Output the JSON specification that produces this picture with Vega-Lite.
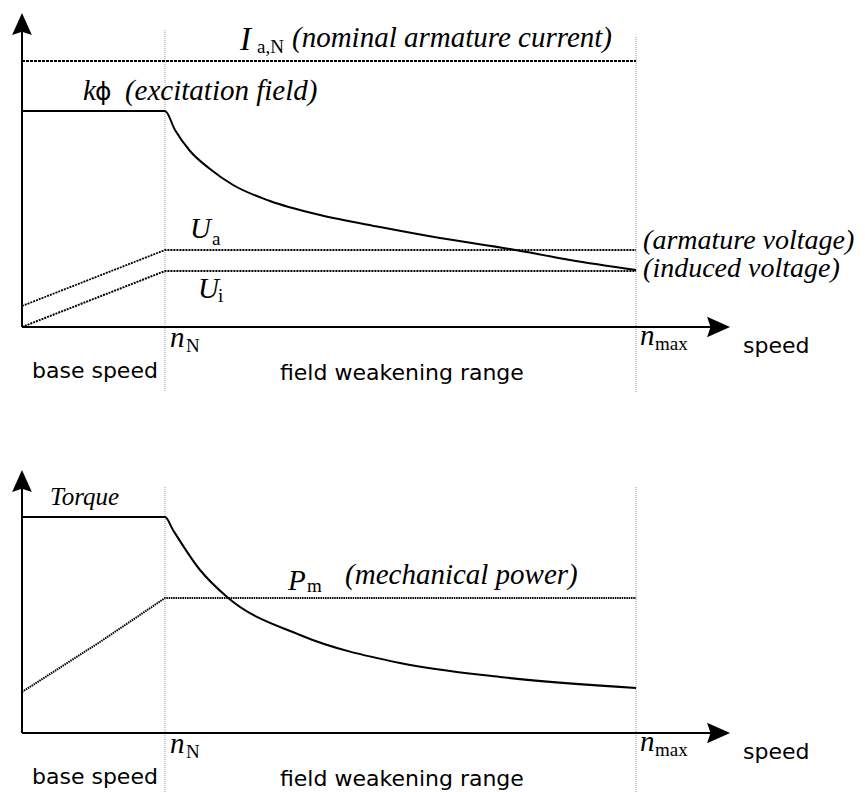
{
  "$schema": "https://vega.github.io/schema/vega-lite/v6.json",
  "background": "white",
  "padding": 0,
  "spacing": 40,
  "config": {"view": {"stroke": null}},
  "resolve": {"scale": {"x": "independent", "y": "independent"}},
  "vconcat": [
    {
      "width": 865,
      "height": 400,
      "encoding": {
        "x": {"field": "n", "type": "quantitative", "scale": {"domain": [-0.1538, 5.895], "nice": false, "zero": false}, "axis": null},
        "y": {"field": "v", "type": "quantitative", "scale": {"domain": [-73, 327], "nice": false, "zero": false}, "axis": null}
      },
      "layer": [
        {
          "data": {"values": [{"n": 1, "v": 297, "v2": -65}, {"n": 4.294, "v": 290, "v2": -65}]},
          "mark": {"type": "rule", "color": "#999999", "strokeWidth": 1, "strokeDash": [1, 1]},
          "encoding": {"y2": {"field": "v2"}}
        },
        {
          "data": {"values": [{"n": 0, "v": 0, "n2": 0, "v2": 300}, {"n": 0, "v": 0, "n2": 4.87, "v2": 0}]},
          "mark": {"type": "rule", "color": "black", "strokeWidth": 2},
          "encoding": {"x2": {"field": "n2"}, "y2": {"field": "v2"}}
        },
        {
          "data": {"values": [{"n": 0, "v": 303}]},
          "mark": {"type": "point", "shape": "M0,-1L0.9,1L0,0.7L-0.9,1Z", "filled": true, "color": "black", "opacity": 1, "size": 484}
        },
        {
          "data": {"values": [{"n": 4.871, "v": 0}]},
          "mark": {"type": "point", "shape": "M1,0L-1,0.9L-0.7,0L-1,-0.9Z", "filled": true, "color": "black", "opacity": 1, "size": 529}
        },
        {
          "data": {"values": [{"n": 0, "v": 266}, {"n": 4.294, "v": 266}]},
          "mark": {"type": "line", "color": "black", "strokeWidth": 2, "strokeDash": [3, 1]}
        },
        {
          "data": {"values": [
            {"n": 0, "v": 216}, {"n": 1, "v": 216}, {"n": 1.07, "v": 197}, {"n": 1.175, "v": 176},
            {"n": 1.315, "v": 158}, {"n": 1.476, "v": 142}, {"n": 1.734, "v": 126}, {"n": 2.084, "v": 112},
            {"n": 2.503, "v": 100}, {"n": 2.923, "v": 89}, {"n": 3.413, "v": 78}, {"n": 3.832, "v": 67}, {"n": 4.294, "v": 57}
          ]},
          "mark": {"type": "line", "color": "black", "strokeWidth": 2, "interpolate": "monotone"}
        },
        {
          "data": {"values": [{"n": 0, "v": 21}, {"n": 1, "v": 77}, {"n": 4.294, "v": 77}]},
          "mark": {"type": "line", "color": "black", "strokeWidth": 1.8, "strokeDash": [2, 1]}
        },
        {
          "data": {"values": [{"n": 0, "v": 0}, {"n": 1, "v": 56}, {"n": 4.294, "v": 56}]},
          "mark": {"type": "line", "color": "black", "strokeWidth": 2, "strokeDash": [2, 1]}
        },
        {
          "data": {"values": [{"n": 1.524, "v": 277, "t": "I"}]},
          "mark": {"type": "text", "font": "Liberation Serif", "fontStyle": "italic", "fontSize": 33, "align": "left", "baseline": "alphabetic", "color": "black"},
          "encoding": {"text": {"field": "t"}}
        },
        {
          "data": {"values": [
            {"n": 1.888, "v": 280, "t": "(nominal armature current)"},
            {"n": 0.427, "v": 227, "t": "k"},
            {"n": 0.72, "v": 227, "t": "(excitation field)"},
            {"n": 1.175, "v": 89, "t": "U"},
            {"n": 1.231, "v": 29, "t": "U"},
            {"n": 1.035, "v": -20, "t": "n"},
            {"n": 4.322, "v": -18, "t": "n"}
          ]},
          "mark": {"type": "text", "font": "Liberation Serif", "fontStyle": "italic", "fontSize": 29, "align": "left", "baseline": "alphabetic", "color": "black"},
          "encoding": {"text": {"field": "t"}}
        },
        {
          "data": {"values": [
            {"n": 4.343, "v": 78, "t": "(armature voltage)"},
            {"n": 4.343, "v": 50, "t": "(induced voltage)"}
          ]},
          "mark": {"type": "text", "font": "Liberation Serif", "fontStyle": "italic", "fontSize": 28, "align": "left", "baseline": "alphabetic", "color": "black"},
          "encoding": {"text": {"field": "t"}}
        },
        {
          "data": {"values": [
            {"n": 1.643, "v": 274, "t": "a,N"},
            {"n": 1.329, "v": 82, "t": "a"},
            {"n": 1.371, "v": 25, "t": "i"},
            {"n": 1.147, "v": -25, "t": "N"},
            {"n": 4.427, "v": -23, "t": "max"}
          ]},
          "mark": {"type": "text", "font": "Liberation Serif", "fontSize": 19, "align": "left", "baseline": "alphabetic", "color": "black"},
          "encoding": {"text": {"field": "t"}}
        },
        {
          "data": {"values": [{"n": 0.51, "v": 227, "t": "ϕ"}]},
          "mark": {"type": "text", "font": "DejaVu Sans", "fontSize": 25, "align": "left", "baseline": "alphabetic", "color": "black"},
          "encoding": {"text": {"field": "t"}}
        },
        {
          "data": {"values": [
            {"n": 5.042, "v": -26, "t": "speed"},
            {"n": 0.07, "v": -51, "t": "base speed"},
            {"n": 1.804, "v": -53, "t": "field weakening range"}
          ]},
          "mark": {"type": "text", "font": "DejaVu Sans", "fontSize": 22, "align": "left", "baseline": "alphabetic", "color": "black"},
          "encoding": {"text": {"field": "t"}}
        }
      ]
    },
    {
      "width": 865,
      "height": 352,
      "encoding": {
        "x": {"field": "n", "type": "quantitative", "scale": {"domain": [-0.1538, 5.895], "nice": false, "zero": false}, "axis": null},
        "y": {"field": "v", "type": "quantitative", "scale": {"domain": [-59, 293], "nice": false, "zero": false}, "axis": null}
      },
      "layer": [
        {
          "data": {"values": [{"n": 1, "v": 246, "v2": -59}, {"n": 4.294, "v": 246, "v2": -59}]},
          "mark": {"type": "rule", "color": "#999999", "strokeWidth": 1, "strokeDash": [1, 1]},
          "encoding": {"y2": {"field": "v2"}}
        },
        {
          "data": {"values": [{"n": 0, "v": 0, "n2": 0, "v2": 248}, {"n": 0, "v": 0, "n2": 4.87, "v2": 0}]},
          "mark": {"type": "rule", "color": "black", "strokeWidth": 2},
          "encoding": {"x2": {"field": "n2"}, "y2": {"field": "v2"}}
        },
        {
          "data": {"values": [{"n": 0, "v": 252}]},
          "mark": {"type": "point", "shape": "M0,-1L0.9,1L0,0.7L-0.9,1Z", "filled": true, "color": "black", "opacity": 1, "size": 484}
        },
        {
          "data": {"values": [{"n": 4.871, "v": 0}]},
          "mark": {"type": "point", "shape": "M1,0L-1,0.9L-0.7,0L-1,-0.9Z", "filled": true, "color": "black", "opacity": 1, "size": 529}
        },
        {
          "data": {"values": [
            {"n": 0, "v": 216}, {"n": 1, "v": 216}, {"n": 1.056, "v": 203}, {"n": 1.245, "v": 163},
            {"n": 1.434, "v": 136}, {"n": 1.944, "v": 98}, {"n": 2.643, "v": 70}, {"n": 3.343, "v": 56}, {"n": 4.294, "v": 45}
          ]},
          "mark": {"type": "line", "color": "black", "strokeWidth": 2, "interpolate": "monotone"}
        },
        {
          "data": {"values": [{"n": 0, "v": 41}, {"n": 0.545, "v": 91}, {"n": 1, "v": 135}, {"n": 4.294, "v": 135}]},
          "mark": {"type": "line", "color": "black", "strokeWidth": 2, "strokeDash": [1.5, 0.8]}
        },
        {
          "data": {"values": [
            {"n": 1.86, "v": 143, "t": "P"},
            {"n": 2.259, "v": 149, "t": "(mechanical power)"},
            {"n": 1.035, "v": -20, "t": "n"},
            {"n": 4.322, "v": -18, "t": "n"}
          ]},
          "mark": {"type": "text", "font": "Liberation Serif", "fontStyle": "italic", "fontSize": 29, "align": "left", "baseline": "alphabetic", "color": "black"},
          "encoding": {"text": {"field": "t"}}
        },
        {
          "data": {"values": [{"n": 0.196, "v": 228, "t": "Torque"}]},
          "mark": {"type": "text", "font": "Liberation Serif", "fontStyle": "italic", "fontSize": 25, "align": "left", "baseline": "alphabetic", "color": "black"},
          "encoding": {"text": {"field": "t"}}
        },
        {
          "data": {"values": [
            {"n": 1.993, "v": 141, "t": "m"},
            {"n": 1.147, "v": -25, "t": "N"},
            {"n": 4.427, "v": -23, "t": "max"}
          ]},
          "mark": {"type": "text", "font": "Liberation Serif", "fontSize": 19, "align": "left", "baseline": "alphabetic", "color": "black"},
          "encoding": {"text": {"field": "t"}}
        },
        {
          "data": {"values": [
            {"n": 5.042, "v": -26, "t": "speed"},
            {"n": 0.07, "v": -51, "t": "base speed"},
            {"n": 1.804, "v": -53, "t": "field weakening range"}
          ]},
          "mark": {"type": "text", "font": "DejaVu Sans", "fontSize": 22, "align": "left", "baseline": "alphabetic", "color": "black"},
          "encoding": {"text": {"field": "t"}}
        }
      ]
    }
  ]
}
